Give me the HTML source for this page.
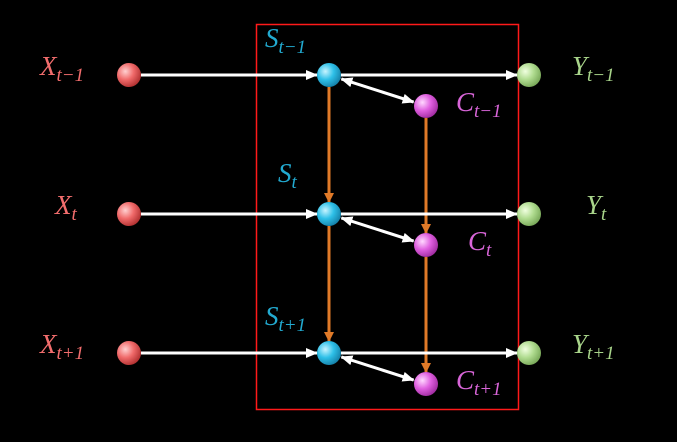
<!DOCTYPE html>
<html><head><meta charset="utf-8"><style>
html,body{margin:0;padding:0;background:#000;width:677px;height:442px;overflow:hidden}
text{font-family:"Liberation Serif",serif;font-style:italic}
</style></head><body>
<svg id="d" width="677" height="442" viewBox="0 0 677 442">
<defs>
<radialGradient id="gx" cx="35%" cy="35%" r="70%"><stop offset="0" stop-color="#ffd0d0"/><stop offset="0.5" stop-color="#f06a6a"/><stop offset="1" stop-color="#b03030"/></radialGradient>
<radialGradient id="gs" cx="35%" cy="35%" r="70%"><stop offset="0" stop-color="#c8f4ff"/><stop offset="0.5" stop-color="#2ec0e8"/><stop offset="1" stop-color="#1580a8"/></radialGradient>
<radialGradient id="gc" cx="35%" cy="35%" r="70%"><stop offset="0" stop-color="#ffd8ff"/><stop offset="0.5" stop-color="#e060e0"/><stop offset="1" stop-color="#a02ca0"/></radialGradient>
<radialGradient id="gy" cx="35%" cy="35%" r="70%"><stop offset="0" stop-color="#f0ffe0"/><stop offset="0.5" stop-color="#b0dc90"/><stop offset="1" stop-color="#78a858"/></radialGradient>
<marker id="aw" markerWidth="12" markerHeight="10" refX="11" refY="5" orient="auto" markerUnits="userSpaceOnUse"><path d="M0,0 L12,5 L0,10 Z" fill="#fff"/></marker>
<marker id="aws" markerWidth="12" markerHeight="10" refX="1" refY="5" orient="auto" markerUnits="userSpaceOnUse"><path d="M12,0 L0,5 L12,10 Z" fill="#fff"/></marker>
<marker id="ao" markerWidth="10" markerHeight="10" refX="9" refY="5" orient="auto" markerUnits="userSpaceOnUse"><path d="M0,0 L10,5 L0,10 Z" fill="#e07a28"/></marker>
</defs>
<rect x="256.5" y="24.5" width="262" height="385" fill="none" stroke="#ff1a1a" stroke-width="1.5"/>
<g id="g"></g>
</svg>
<script>
const rowY=[75,214,353];
const subs=["t\u22121","t","t+1"];
const xX=129,xS=329,xC=426,xY=529,cOff=31,r=12;
const g=document.getElementById('g');
const NS="http://www.w3.org/2000/svg";
function mk(t,a){const e=document.createElementNS(NS,t);for(const k in a)e.setAttribute(k,a[k]);g.appendChild(e);return e;}
function lbl(x,y,base,sub,col,name){const t=mk('text',{x:x,y:y,fill:col,'font-size':27});t.textContent=base;const s=document.createElementNS(NS,'tspan');s.setAttribute('font-size',19);s.setAttribute('dy',6);s.textContent=sub;t.appendChild(s);}
for(let i=0;i<rowY.length-1;i++){
 let l=mk('line',{x1:xS,y1:rowY[i]+r,x2:xS,y2:rowY[i+1]-r,stroke:'#e07a28','stroke-width':3,'marker-end':'url(#ao)'});
 
 l=mk('line',{x1:xC,y1:rowY[i]+cOff+r,x2:xC,y2:rowY[i+1]+cOff-r,stroke:'#e07a28','stroke-width':3,'marker-end':'url(#ao)'});
 
}
rowY.forEach((y,i)=>{
 let l=mk('line',{x1:xX+r,y1:y,x2:xS-r,y2:y,stroke:'#fff','stroke-width':3,'marker-end':'url(#aw)'});
 
 l=mk('line',{x1:xS+r,y1:y,x2:xY-r,y2:y,stroke:'#fff','stroke-width':3,'marker-end':'url(#aw)'});
 
 const dx=xC-xS,dy=cOff,len=Math.hypot(dx,dy),ux=dx/len,uy=dy/len;
 l=mk('line',{x1:xS+ux*(r+1),y1:y+uy*(r+1),x2:xC-ux*(r+1),y2:y+cOff-uy*(r+1),stroke:'#fff','stroke-width':3,'marker-end':'url(#aw)','marker-start':'url(#aws)'});
 
 let c=mk('circle',{cx:xX,cy:y,r:r,fill:'url(#gx)'});
 c=mk('circle',{cx:xS,cy:y,r:r,fill:'url(#gs)'});
 c=mk('circle',{cx:xC,cy:y+cOff,r:r,fill:'url(#gc)'});
 c=mk('circle',{cx:xY,cy:y,r:r,fill:'url(#gy)'});
 lbl(i==1?55:40,y,'X',subs[i],'#f26d6d','input-label');
 lbl(i==1?586:572,y,'Y',subs[i],'#a8d48a','output-label');
 lbl(i==1?468:456,y+cOff+5,'C',subs[i],'#d865d8','context-label');
 lbl(i==1?278:265,y-(i==1?32:28),'S',subs[i],'#22aad0','state-label');
});
</script>
</body></html>
